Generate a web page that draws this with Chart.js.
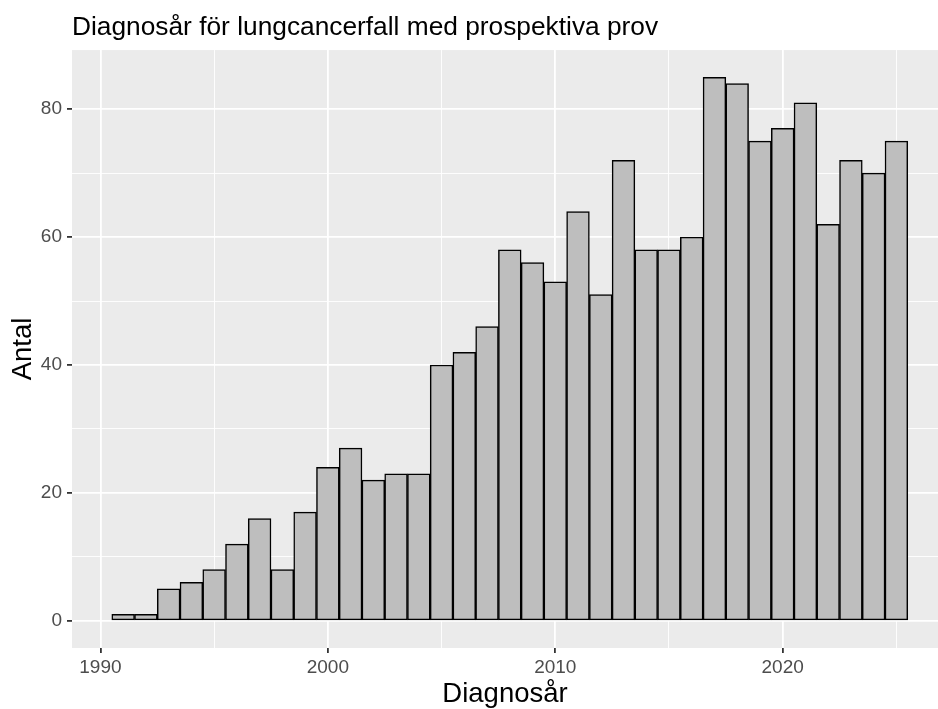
<!DOCTYPE html>
<html>
<head>
<meta charset="utf-8">
<title>Diagnosår för lungcancerfall med prospektiva prov</title>
<script src="https://cdn.jsdelivr.net/npm/chart.js@4/dist/chart.umd.min.js"></script>
<style>
  html, body { margin: 0; padding: 0; background: #ffffff; }
  #wrap { width: 938px; height: 709px; }
</style>
</head>
<body>
<div id="wrap"><canvas id="chart" width="938" height="709"></canvas></div>
<script>
// one bin per diagnosis year
const years = [
  1991, 1992, 1993, 1994, 1995, 1996, 1997, 1998, 1999, 2000,
  2001, 2002, 2003, 2004, 2005, 2006, 2007, 2008, 2009, 2010,
  2011, 2012, 2013, 2014, 2015, 2016, 2017, 2018, 2019, 2020,
  2021, 2022, 2023, 2024, 2025,
];
const counts = [
  1, 1, 5, 6, 8, 12, 16, 8, 17, 24,
  27, 22, 23, 23, 40, 42, 46, 58, 56, 53,
  64, 51, 72, 58, 58, 60, 85, 84, 75, 77,
  81, 62, 72, 70, 75,
];
const xMajorTicks = [1990, 2000, 2010, 2020];
const yMajorTicks = [0, 20, 40, 60, 80];

const titleText = 'Diagnosår för lungcancerfall med prospektiva prov';
const xTitle = 'Diagnosår';
const yTitle = 'Antal';

const FONT = "'Liberation Sans', Arial, sans-serif";

// grey ggplot-style panel behind the grid
const panelBg = {
  id: 'panelBg',
  beforeDraw(chart) {
    const { ctx, chartArea: a } = chart;
    ctx.save();
    ctx.fillStyle = '#EBEBEB';
    ctx.fillRect(a.left, a.top, a.right - a.left, a.bottom - a.top);
    ctx.restore();
  },
};

const isMajor = (c, majors) => !!(c && c.tick && majors.includes(c.tick.value));

const gridFor = (majors) => ({
  offset: false,
  color: '#FFFFFF',
  lineWidth: (c) => (isMajor(c, majors) ? 1.8 : 0.9),
  tickColor: (c) => (isMajor(c, majors) ? '#333333' : 'rgba(0,0,0,0)'),
  tickWidth: 1.8,
  tickLength: 5,
  drawTicks: true,
});

new Chart(document.getElementById('chart'), {
  type: 'bar',
  data: {
    datasets: [
      {
        data: years.map((y, i) => ({ x: y, y: counts[i] })),
        backgroundColor: '#BEBEBE',
        borderColor: '#000000',
        borderWidth: 1.5,
        borderSkipped: false,
        barPercentage: 1,
        categoryPercentage: 1,
      },
    ],
  },
  options: {
    responsive: false,
    animation: false,
    layout: { padding: 0 },
    plugins: {
      legend: { display: false },
      tooltip: { enabled: false },
      title: {
        display: true,
        text: titleText,
        align: 'start',
        fullSize: false,
        color: '#000000',
        font: { family: FONT, size: 26.3, weight: 'normal', lineHeight: 1.2 },
        padding: { top: 12, bottom: 6.5 },
      },
    },
    scales: {
      x: {
        type: 'linear',
        offset: false,
        min: 1988.75,
        max: 2026.83,
        afterFit: (s) => { s.height = 61; },
        border: { display: false },
        grid: gridFor(xMajorTicks),
        ticks: {
          stepSize: 5,
          autoSkip: false,
          includeBounds: false,
          maxRotation: 0,
          padding: 3,
          color: '#4D4D4D',
          font: { family: FONT, size: 19 },
          callback: (v) => (xMajorTicks.includes(v) ? String(v) : ''),
        },
        title: {
          display: true,
          text: xTitle,
          color: '#000000',
          font: { family: FONT, size: 27.5, lineHeight: 1 },
          padding: { top: 0, bottom: 1 },
        },
      },
      y: {
        min: -4.25,
        max: 89.25,
        afterFit: (s) => { s.width = 72; },
        border: { display: false },
        grid: gridFor(yMajorTicks),
        ticks: {
          stepSize: 10,
          autoSkip: false,
          includeBounds: false,
          padding: 5,
          color: '#4D4D4D',
          font: { family: FONT, size: 19 },
          callback: (v) => (yMajorTicks.includes(v) ? String(v) : ''),
        },
        title: {
          display: true,
          text: yTitle,
          color: '#000000',
          font: { family: FONT, size: 27.5, lineHeight: 1 },
          padding: { top: 10, bottom: 0 },
        },
      },
    },
  },
  plugins: [panelBg],
});
</script>
</body>
</html>
